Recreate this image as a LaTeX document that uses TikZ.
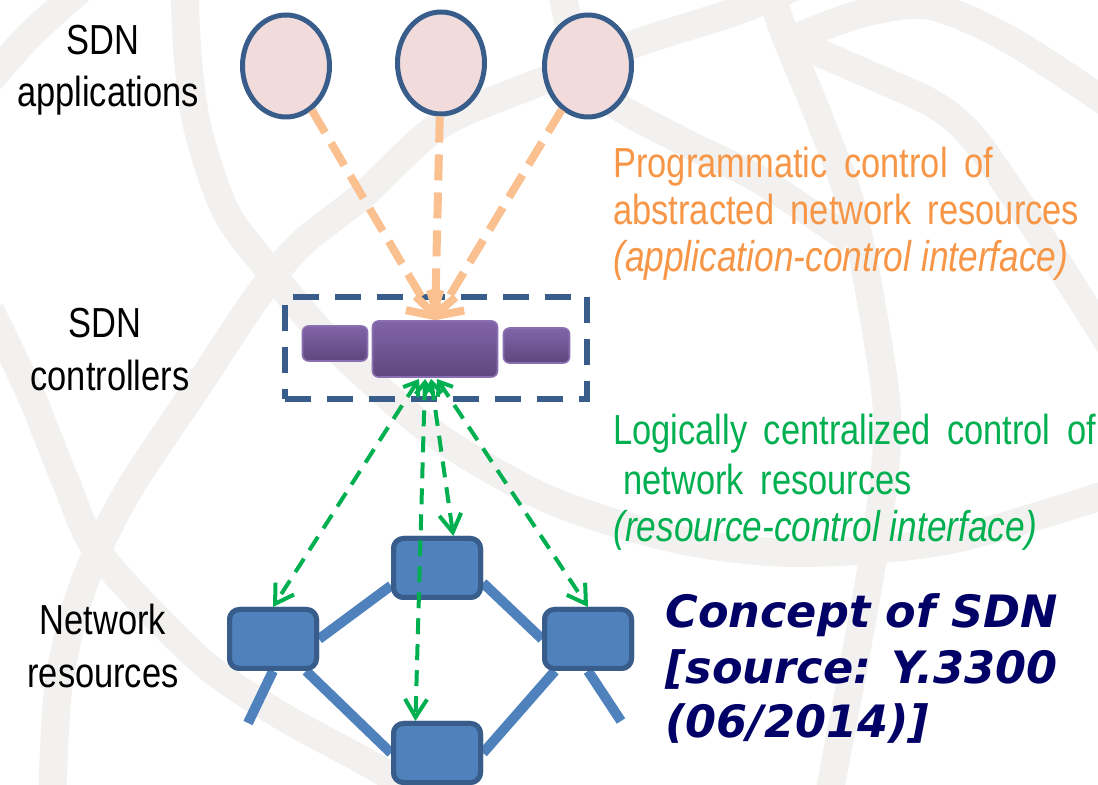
\documentclass[tikz,border=0pt]{standalone}
\usepackage{fontspec}
\setmainfont{Liberation Sans}
\newfontfamily\labelfont[FakeStretch=0.82]{Liberation Sans}
\newfontfamily\titlefont{DejaVu Sans}
\usetikzlibrary{shapes.geometric,arrows.meta}

\definecolor{bandgrey}{HTML}{F2F1EF}
\definecolor{strokeblue}{HTML}{385D8A}
\definecolor{apppink}{HTML}{F2DCDB}
\definecolor{orangeline}{HTML}{FAC090}
\definecolor{orangetext}{HTML}{F79646}
\definecolor{greenline}{HTML}{00B050}
\definecolor{netblue}{HTML}{4F81BD}
\definecolor{ctltop}{HTML}{8264A8}
\definecolor{ctlbot}{HTML}{5F477E}
\definecolor{ctledge}{HTML}{8A70B0}
\definecolor{navy}{HTML}{000066}

\newcommand\descspacing{\spaceskip 8.3pt plus 1pt\relax}
\newcommand\itspacing{\spaceskip 5pt plus 1pt\relax}

\tikzset{
  band/.style={draw=bandgrey, line width=14pt},
  app/.style={ellipse, draw=strokeblue, line width=2.5pt, fill=apppink,
    minimum width=43.5pt, minimum height=51pt, inner sep=0pt},
  ctlpart/.style={rectangle, rounded corners=3pt, draw=ctledge, line width=0.8pt,
    top color=ctltop, bottom color=ctlbot, inner sep=0pt},
  ctlframe/.style={rectangle, draw=strokeblue, line width=3pt,
    dash pattern=on 13pt off 8pt, inner sep=0pt},
  netnode/.style={rectangle, rounded corners=5pt, draw=strokeblue, line width=2.5pt,
    fill=netblue, minimum width=43.5pt, minimum height=29.5pt, inner sep=0pt},
  link/.style={draw=netblue, line width=5pt},
  apiarrow/.style={draw=orangeline, line width=4pt, dash pattern=on 13pt off 6pt,
    -{Straight Barb[length=9pt,width=20pt]}},
  rciarrow/.style={draw=greenline, line width=2pt, dash pattern=on 8pt off 5pt,
    {Straight Barb[length=6pt,width=9pt]}-{Straight Barb[length=9pt,width=11pt]}},
  lbl/.style={anchor=base, inner sep=0pt,
    font=\labelfont\fontsize{21pt}{26pt}\selectfont},
  desc/.style={anchor=base west, inner sep=0pt,
    font=\labelfont\fontsize{21pt}{26pt}\selectfont\descspacing},
  descit/.style={anchor=base west, inner sep=0pt,
    font=\labelfont\itshape\fontsize{21.5pt}{26pt}\selectfont\itspacing},
  title/.style={anchor=base west, inner sep=0pt, text=navy,
    font=\titlefont\bfseries\itshape\fontsize{22.3pt}{27pt}\selectfont},
}

\begin{document}
\begin{tikzpicture}[x=0.5pt,y=-0.5pt]
\useasboundingbox (0,0) rectangle (1098,785);
\fill[white] (0,0) rectangle (1098,785);

% faint globe watermark
\begin{scope}
\clip (0,0) rectangle (1098,785);
\draw[band] plot[smooth] coordinates {(184,-20) (188,60) (198,130) (225,210) (265,265) (333,345) (433,433) (550,500) (680,540) (800,553) (950,540) (1120,490)};
\draw[band] plot[smooth] coordinates {(810,-20) (740,10) (640,42) (540,82) (440,125) (363,195) (300,245) (255,300) (200,383) (133,483) (100,545) (75,610) (58,690) (52,800)};
\draw[band] plot[smooth] coordinates {(-10,310) (30,393) (65,480) (100,555) (200,660) (280,715) (366,762) (440,805)};
\draw[band] plot[smooth] coordinates {(-10,80) (30,35) (80,-10)};
\draw[band] plot[smooth] coordinates {(562,-10) (575,45) (610,100) (680,140) (760,180) (850,240)};
\draw[band] plot[smooth] coordinates {(770,-10) (785,35) (820,120) (855,220) (885,390) (885,470) (867,593) (828,800)};
\draw[band] plot[smooth] coordinates {(790,40) (870,75) (935,105) (975,140) (1030,220) (1110,345)};
\draw[band] plot[smooth] coordinates {(790,40) (860,14) (930,6) (1010,40) (1110,105)};
\end{scope}

% layer labels
\node[lbl] (labAppA) at (103,55) {SDN};
\node[lbl] (labAppB) at (108,107) {applications};
\node[lbl] (labCtlA) at (105,338) {SDN};
\node[lbl] (labCtlB) at (110,391) {controllers};
\node[lbl] (labNetA) at (103,635) {Network};
\node[lbl] (labNetB) at (103,688) {resources};

% SDN applications
\node[app] (appL) at (286,66) {};
\node[app] (appM) at (441,63) {};
\node[app] (appR) at (588,66) {};

% SDN controller
\node[ctlframe, minimum width=151pt, minimum height=51pt] (ctlbox) at (435.5,348.5) {};
\node[ctlpart, minimum width=32.5pt, minimum height=17.5pt] (ctlL) at (335,343.5) {};
\node[ctlpart, minimum width=62.5pt, minimum height=28pt] (ctlC) at (435,349) {};
\node[ctlpart, minimum width=33pt, minimum height=17.5pt] (ctlR) at (536.5,345.5) {};

% application-control interface
\draw[apiarrow] (appL) -- (ctlC.north);
\draw[apiarrow] (appM) -- (ctlC.north);
\draw[apiarrow] (appR) -- (ctlC.north);

% network resources: links first, boxes on top
\coordinate (stubL) at (248,723);
\coordinate (stubR) at (621,721);
\path (273,639) node[netnode] (nLeft) {}
      (437,568) node[netnode] (nTop) {}
      (588,639) node[netnode] (nRight) {}
      (437,753) node[netnode] (nBot) {};
\draw[link] (nLeft.east) -- (nTop.201);
\draw[link] (nTop.-18) -- (nRight.west);
\draw[link] (nLeft.316) -- (nBot.west);
\draw[link] (nRight.224) -- (nBot.east);
\draw[link] (nLeft.south) -- (stubL);
\draw[link] (nRight.south) -- (stubR);
\path (273,639) node[netnode] (nLeftTop) {}
      (437,568) node[netnode] (nTopTop) {}
      (588,639) node[netnode] (nRightTop) {}
      (437,753) node[netnode] (nBotTop) {};

% resource-control interface
\coordinate (g1) at (419,379);
\coordinate (g2) at (425,379);
\coordinate (g3) at (431,379);
\coordinate (g4) at (437,379);
\draw[rciarrow] (g1) -- (nLeft.north);
\draw[rciarrow] (g2) -- (nBot.124);
\draw[rciarrow] (g3) -- (nTop.63);
\draw[rciarrow] (g4) -- (nRight.north);

% descriptions
\node[desc, text=orangetext] (apiA) at (613,178) {Programmatic control of};
\node[desc, text=orangetext] (apiB) at (613,225) {abstracted network resources};
\node[descit, text=orangetext] (apiC) at (613,272) {(application-control interface)};
\node[desc, text=greenline] (rciA) at (613,445) {Logically centralized control of};
\node[desc, text=greenline] (rciB) at (623,495) {network resources};
\node[descit, text=greenline] (rciC) at (613,542) {(resource-control interface)};

% caption
\node[title] (capA) at (665,628) {Concept of SDN};
\node[title] (capB) at (665,683) {[source: Y.3300};
\node[title] (capC) at (665,738) {(06/2014)]};
\end{tikzpicture}
\end{document}
